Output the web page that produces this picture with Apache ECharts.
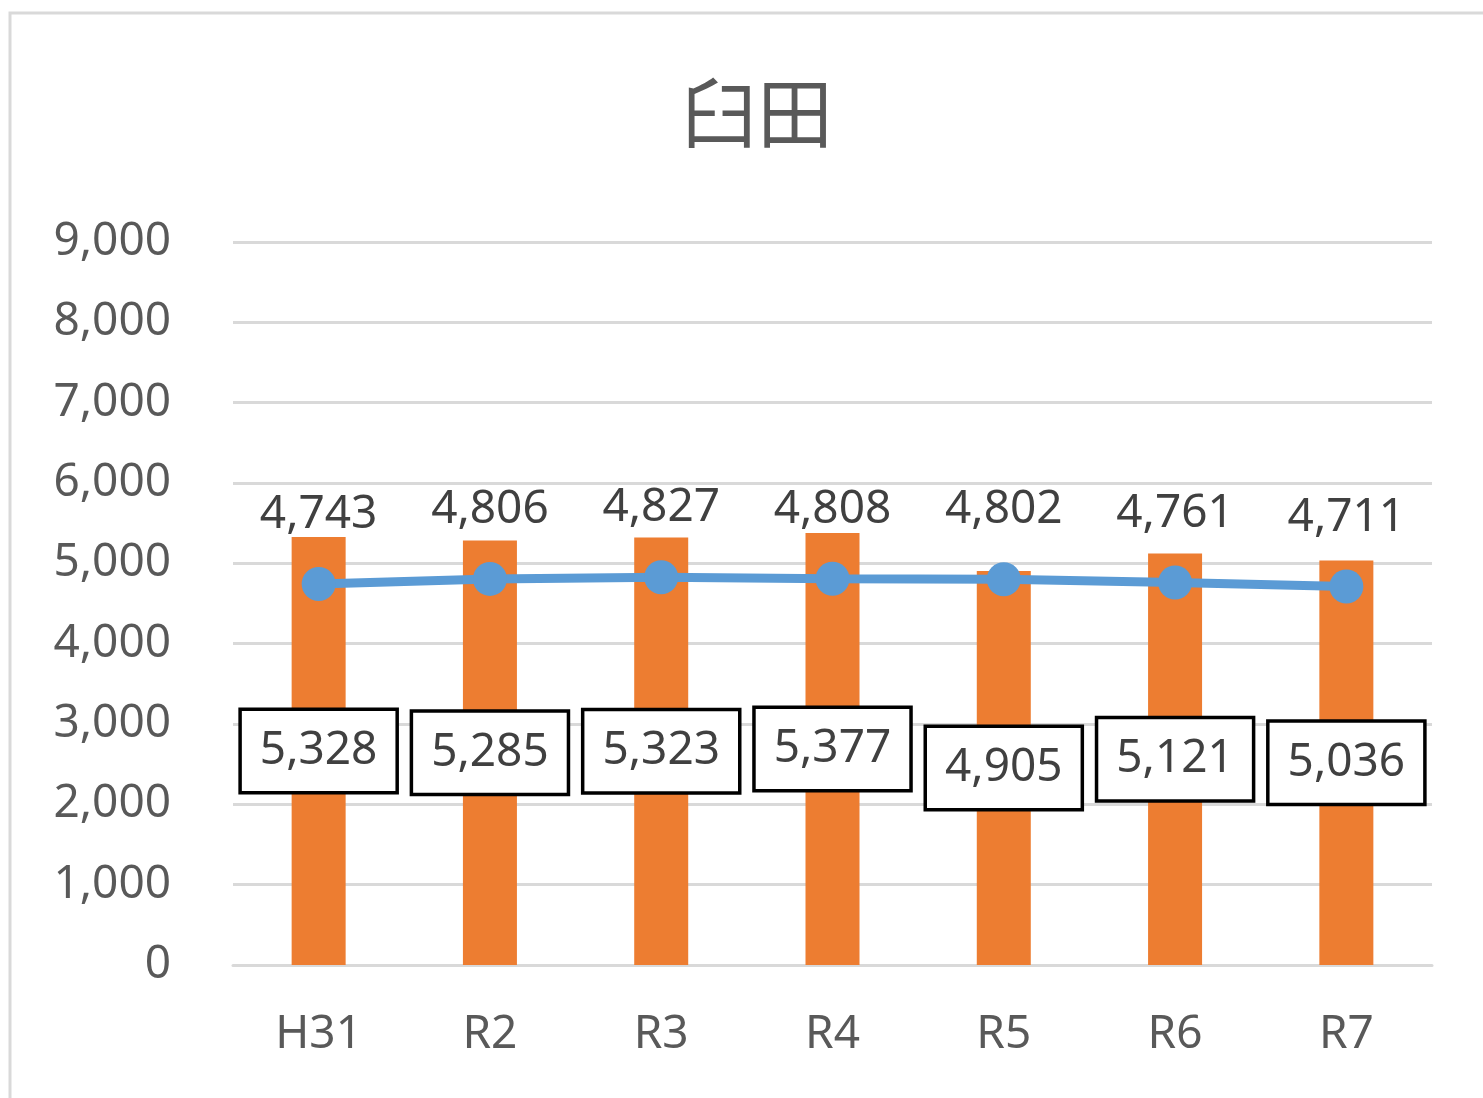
<!DOCTYPE html>
<html>
<head>
<meta charset="utf-8">
<script src="https://cdn.jsdelivr.net/npm/echarts@6/dist/echarts.min.js"></script>
<style>
  html, body { margin: 0; padding: 0; background: #fff; }
  #usuda { width: 1483px; height: 1098px; }
</style>
</head>
<body>
<div id="usuda"></div>
<script>
// 年度
var years = ['H31', 'R2', 'R3', 'R4', 'R5', 'R6', 'R7']
// 棒（オレンジ）
var barValues = [5328, 5285, 5323, 5377, 4905, 5121, 5036]
// 折れ線（青）
var lineValues = [4743, 4806, 4827, 4808, 4802, 4761, 4711]
var yMax = 9000
var yStep = 1000

function comma(v) {
  return String(v).replace(/\B(?=(\d{3})+(?!\d))/g, ',')
}

var chart = echarts.init(document.getElementById('usuda'))
var font = 'Noto Sans, "Noto Sans CJK JP", sans-serif'

var option = {
  animation: false,
  textStyle: { fontFamily: font },
  title: {
    text: '臼田',
    left: 676,
    top: 70,
    textStyle: {
      fontFamily: '"Noto Sans CJK JP", sans-serif',
      fontSize: 76,
      fontWeight: 'normal',
      color: '#595959'
    }
  },
  graphic: [
    {
      type: 'polyline',
      shape: { points: [[10, 1098], [10, 13], [1483, 13]] },
      style: { stroke: '#d9d9d9', lineWidth: 3, fill: null }
    }
  ],
  grid: {
    left: 233,
    right: 51,
    top: 242,
    bottom: 133
  },
  xAxis: {
    type: 'category',
    data: years,
    axisLine: { show: true, lineStyle: { color: '#d9d9d9', width: 3 } },
    axisTick: { show: false },
    axisLabel: {
      margin: 47,
      fontSize: 46,
      color: '#595959',
      fontFamily: font
    }
  },
  yAxis: {
    type: 'value',
    min: 0,
    max: yMax,
    interval: yStep,
    axisLine: { show: false },
    axisTick: { show: false },
    splitLine: { lineStyle: { color: '#d9d9d9', width: 3 } },
    axisLabel: {
      margin: 62,
      fontSize: 46,
      color: '#595959',
      fontFamily: font,
      formatter: comma
    }
  },
  series: [
    {
      type: 'bar',
      data: barValues,
      barWidth: 54,
      itemStyle: { color: '#ed7d31' },
      label: {
        show: true,
        position: 'inside',
        formatter: function (p) { return comma(p.value) },
        fontSize: 46,
        color: '#404040',
        fontFamily: font,
        backgroundColor: '#fff',
        borderColor: '#000',
        borderWidth: 3.5,
        padding: [14, 18, 14, 18],
        lineHeight: 52
      },
      z: 2
    },
    {
      type: 'line',
      data: lineValues,
      symbol: 'circle',
      symbolSize: 34,
      lineStyle: { color: '#5b9bd5', width: 9 },
      itemStyle: { color: '#5b9bd5' },
      label: {
        show: true,
        position: 'top',
        distance: 29,
        formatter: function (p) { return comma(p.value) },
        fontSize: 46,
        color: '#404040',
        fontFamily: font
      },
      z: 3
    }
  ]
}
chart.setOption(option)
</script>
</body>
</html>
